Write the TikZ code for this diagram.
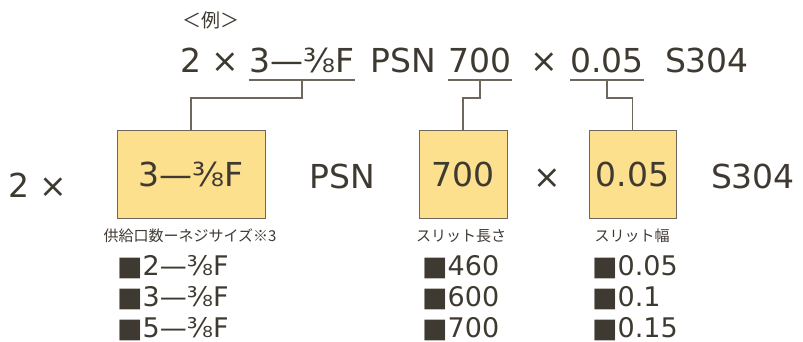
\documentclass[tikz,border=0pt]{standalone}
\usepackage{fontspec}
\setmainfont{DejaVu Sans}
\newfontfamily\jpfont{Noto Sans CJK JP}
\definecolor{ink}{RGB}{62,57,49}
\definecolor{rulegray}{RGB}{110,104,92}
\definecolor{boxfill}{RGB}{253,224,142}

\begin{document}
\begin{tikzpicture}[x=1pt,y=-1pt,
  big/.style={inner sep=0pt,anchor=base,text=ink,font=\fontsize{33}{33}\selectfont},
  item/.style={inner sep=0pt,anchor=base west,text=ink,font=\fontsize{27}{27}\selectfont},
  note/.style={inner sep=0pt,text=ink,font=\jpfont\fontsize{15}{15}\selectfont},
  slot/.style={draw=rulegray,fill=boxfill,line width=0.9pt,minimum height=88pt,inner sep=0pt,text=ink,font=\fontsize{33}{33}\selectfont},
  link/.style={draw=rulegray,line width=1.1pt}]
\useasboundingbox (0,0) rectangle (803,342);
% example line
\node[note,font=\jpfont\fontsize{19}{19}\selectfont] (ex) at (211,20) {＜例＞};
\node[big] (ta) at (210,73) {2 ×};
\node[big] (tb) at (302,73) {3—⅜F};
\node[big] (tc) at (403,73) {PSN};
\node[big] (td) at (480,73) {700};
\node[big] (te) at (544,73) {×};
\node[big] (tf) at (607,73) {0.05};
\node[big] (tg) at (707,73) {S304};
\draw[link] ([yshift=-7pt]tb.base west) -- ([yshift=-7pt]tb.base east);
\draw[link] ([yshift=-7pt]td.base west) -- ([yshift=-7pt]td.base east);
\draw[link] ([yshift=-7pt]tf.base west) -- ([yshift=-7pt]tf.base east);
% boxes
\node[slot,minimum width=148pt] (ports) at (191,174) {3—⅜F};
\node[slot,minimum width=88pt] (length) at (463,174) {700};
\node[slot,minimum width=87pt] (width) at (632.5,174) {0.05};
\node[big] (ma) at (38,197) {2 ×};
\node[big] (mc) at (342,188) {PSN};
\node[big] (me) at (547,188) {×};
\node[big] (mg) at (753,188) {S304};
% connectors
\coordinate (k1) at (ports.north |- 0,98);
\coordinate (k2) at (length.north |- 0,98);
\coordinate (k3) at (width.north |- 0,98);
\draw[link] ([yshift=-7pt]tb.base) |- (k1) -- (ports.north);
\draw[link] ([yshift=-7pt]td.base) |- (k2) -- (length.north);
\draw[link] ([yshift=-7pt]tf.base) |- (k3) -- (width.north);
% labels and choices
\node[note] (lp) at (190,236) {供給口数ーネジサイズ※3};
\node[note] (ll) at (461,236) {スリット長さ};
\node[note] (lw) at (632,236) {スリット幅};
\foreach \t [count=\i] in {2,3,5}
  \node[item] (p\i) at (117,244+31*\i) {■\t—⅜F};
\foreach \t [count=\i] in {460,600,700}
  \node[item] (l\i) at (422,244+31*\i) {■\t};
\foreach \t [count=\i] in {0.05,0.1,0.15}
  \node[item] (w\i) at (592,244+31*\i) {■\t};
\end{tikzpicture}
\end{document}
